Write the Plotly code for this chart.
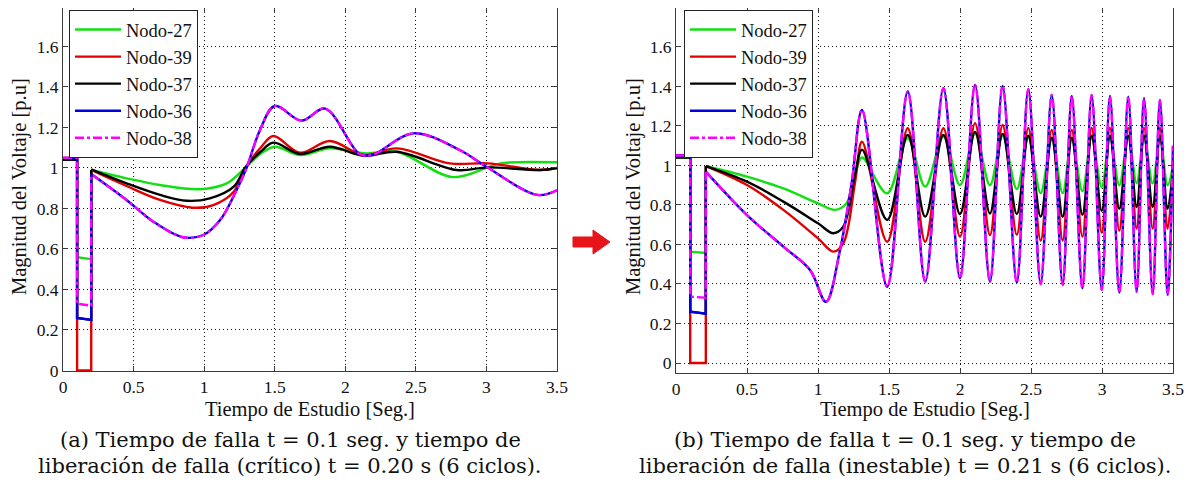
import plotly.graph_objects as go

# ---------------- data ----------------
NODES = ["Nodo-27", "Nodo-39", "Nodo-37", "Nodo-36", "Nodo-38"]
COLORS = ["#10e010", "#e00000", "#000000", "#0000e0", "#ff00ff"]
DASHES = ["solid", "solid", "solid", "solid", "dashdot"]

X_TICKS = [0, 0.5, 1, 1.5, 2, 2.5, 3, 3.5]
Y_TICKS = [0, 0.2, 0.4, 0.6, 0.8, 1, 1.2, 1.4, 1.6]

# Panel (a): pre-fault + fault interval (t = 0.1 .. 0.20 s)
A_FAULT_T = [0.0, 0.1, 0.1, 0.2, 0.2]
A_FAULT_27 = [1.04, 1.04, 0.56, 0.55, 0.99]
A_FAULT_39 = [1.05, 1.05, 0.0, 0.0, 0.99]
A_FAULT_37 = [1.04, 1.04, 0.26, 0.25, 0.99]
A_FAULT_36 = [1.05, 1.05, 0.26, 0.25, 0.97]
A_FAULT_38 = [1.05, 1.05, 0.33, 0.32, 0.97]

# Panel (a): post-fault
A_T_27 = [0.2, 0.45, 0.687, 0.97, 1.16, 1.29, 1.40, 1.50, 1.68, 1.89, 2.15, 2.365, 2.76, 3.01, 3.1, 3.5]
A_V_27 = [0.99, 0.949, 0.916, 0.895, 0.924, 1.0, 1.07, 1.105, 1.064, 1.097, 1.072, 1.08, 0.955, 1.003, 1.023, 1.028]
A_T_39 = [0.2, 0.45, 0.687, 0.92, 1.065, 1.21, 1.29, 1.40, 1.49, 1.68, 1.89, 2.13, 2.365, 2.74, 3.01, 3.38, 3.5]
A_V_39 = [0.99, 0.911, 0.842, 0.804, 0.817, 0.883, 1.0, 1.10, 1.158, 1.075, 1.133, 1.064, 1.097, 1.023, 1.023, 0.99, 1.0]
A_T_37 = [0.2, 0.45, 0.687, 0.877, 1.04, 1.21, 1.29, 1.40, 1.49, 1.68, 1.89, 2.13, 2.365, 2.79, 3.01, 3.38, 3.5]
A_V_37 = [0.993, 0.924, 0.867, 0.838, 0.85, 0.908, 1.0, 1.08, 1.125, 1.069, 1.105, 1.06, 1.08, 0.99, 1.003, 0.99, 1.0]
A_T_36 = [0.2, 0.45, 0.64, 0.85, 0.994, 1.113, 1.23, 1.30, 1.396, 1.50, 1.69, 1.857, 2.10, 2.19, 2.48, 2.81, 3.0, 3.36, 3.5]
A_V_36 = [0.97, 0.842, 0.735, 0.658, 0.669, 0.743, 0.891, 1.0, 1.188, 1.306, 1.234, 1.293, 1.07, 1.064, 1.171, 1.089, 1.006, 0.867, 0.89]
A_T_38 = A_T_36
A_V_38 = A_V_36

# Panel (b): pre-fault + fault interval (t = 0.1 .. 0.21 s)
B_FAULT_T = [0.0, 0.1, 0.1, 0.21, 0.21]
B_FAULT_27 = [1.04, 1.04, 0.564, 0.557, 0.997]
B_FAULT_39 = [1.05, 1.05, 0.0, 0.0, 0.997]
B_FAULT_37 = [1.04, 1.04, 0.26, 0.25, 0.997]
B_FAULT_36 = [1.05, 1.05, 0.26, 0.25, 0.969]
B_FAULT_38 = [1.05, 1.05, 0.336, 0.33, 0.969]

# Panel (b): post-fault, first swing
B_T0_27 = [0.21, 0.5, 0.756, 1.0, 1.12, 1.20, 1.27]
B_V0_27 = [0.997, 0.943, 0.884, 0.808, 0.775, 0.808, 0.977]
B_T0_39 = [0.21, 0.5, 0.756, 1.0, 1.108, 1.178, 1.26]
B_V0_39 = [0.997, 0.901, 0.775, 0.631, 0.564, 0.606, 0.91]
B_T0_37 = [0.21, 0.5, 0.756, 1.0, 1.108, 1.178, 1.26]
B_V0_37 = [0.997, 0.918, 0.817, 0.707, 0.657, 0.69, 0.95]
B_T0_36 = [0.21, 0.5, 0.756, 0.944, 1.056, 1.155, 1.237]
B_V0_36 = [0.969, 0.749, 0.589, 0.471, 0.31, 0.572, 0.91]

# Panel (b): growing oscillation (peaks / troughs)
B_T_OSC = [1.31, 1.487, 1.632, 1.755, 1.883, 2.0, 2.106, 2.211, 2.30, 2.40, 2.481, 2.568, 2.646,
           2.723, 2.787, 2.862, 2.927, 2.998, 3.056, 3.122, 3.185, 3.244, 3.296, 3.357, 3.408,
           3.462, 3.5]
B_V_27 = [1.04, 0.859, 1.138, 0.893, 1.146, 0.901, 1.16, 0.90, 1.15, 0.88, 1.14, 0.86, 1.13,
          0.86, 1.13, 0.87, 1.14, 0.89, 1.14, 0.90, 1.14, 0.91, 1.14, 0.91, 1.14, 0.90, 1.0]
B_V_39 = [1.12, 0.614, 1.188, 0.614, 1.188, 0.64, 1.214, 0.648, 1.205, 0.65, 1.19, 0.62, 1.18,
          0.62, 1.18, 0.64, 1.19, 0.66, 1.19, 0.67, 1.19, 0.68, 1.19, 0.68, 1.19, 0.68, 0.98]
B_V_37 = [1.08, 0.724, 1.154, 0.741, 1.154, 0.754, 1.17, 0.757, 1.16, 0.754, 1.15, 0.741, 1.14,
          0.74, 1.14, 0.75, 1.15, 0.77, 1.15, 0.78, 1.15, 0.79, 1.15, 0.79, 1.15, 0.78, 0.98]
B_V_36 = [1.281, 0.386, 1.374, 0.412, 1.391, 0.429, 1.408, 0.412, 1.403, 0.407, 1.386, 0.40, 1.357,
          0.395, 1.352, 0.378, 1.357, 0.37, 1.352, 0.356, 1.348, 0.361, 1.34, 0.349, 1.332, 0.345, 1.1]
B_V_38 = B_V_36

CAPTION_A = ["(a) Tiempo de falla t = 0.1 seg. y tiempo de",
             "liberación de falla (crítico) t = 0.20 s (6 ciclos)."]
CAPTION_B = ["(b) Tiempo de falla t = 0.1 seg. y tiempo de",
             "liberación de falla (inestable) t = 0.21 s (6 ciclos)."]
X_TITLE = "Tiempo de Estudio [Seg.]"
Y_TITLE = "Magnitud del Voltaje [p.u]"

# ---------------- figure ----------------
OFF = 8                       # page body margin
W, H = 1192 - 2 * OFF, 492 - 2 * OFF
SERIF = "Liberation Serif, Times New Roman, serif"
CAP_FONT = "DejaVu Serif, serif"

fig = go.Figure()

a_fault = [A_FAULT_27, A_FAULT_39, A_FAULT_37, A_FAULT_36, A_FAULT_38]
a_post = [(A_T_27, A_V_27), (A_T_39, A_V_39), (A_T_37, A_V_37), (A_T_36, A_V_36), (A_T_38, A_V_38)]
b_fault = [B_FAULT_27, B_FAULT_39, B_FAULT_37, B_FAULT_36, B_FAULT_38]
b_early = [(B_T0_27, B_V0_27), (B_T0_39, B_V0_39), (B_T0_37, B_V0_37), (B_T0_36, B_V0_36), (B_T0_36, B_V0_36)]
b_osc = [B_V_27, B_V_39, B_V_37, B_V_36, B_V_38]


def line_style(i):
    return dict(color=COLORS[i], width=2.4, dash=DASHES[i])


for panel, (xa, ya, leg) in enumerate([("x", "y", "legend"), ("x2", "y2", "legend2")]):
    for i, name in enumerate(NODES):
        if panel == 0:
            pt, pv = a_post[i]
        else:
            pt = b_early[i][0] + B_T_OSC
            pv = b_early[i][1] + b_osc[i]
        fig.add_trace(go.Scatter(x=pt, y=pv, mode="lines", name=name, xaxis=xa, yaxis=ya,
                                 legend=leg, legendgroup=f"{panel}{i}",
                                 line=dict(shape="spline", smoothing=1.0, **line_style(i))))
    for i, name in enumerate(NODES):
        ft = A_FAULT_T if panel == 0 else B_FAULT_T
        fv = a_fault[i] if panel == 0 else b_fault[i]
        fig.add_trace(go.Scatter(x=ft, y=fv, mode="lines", name=name, xaxis=xa, yaxis=ya,
                                 legend=leg, legendgroup=f"{panel}{i}", showlegend=False,
                                 line=line_style(i)))


def px2x(px):
    return (px - OFF) / W


def py2y(py):
    return min(1.0, max(0.0, 1 - (py - OFF) / H))


axis_common = dict(showline=True, linecolor="#3a3a3a", linewidth=1, mirror="ticks",
                   ticks="inside", ticklen=5, tickcolor="#3a3a3a",
                   showgrid=True, gridcolor="#111111", gridwidth=1, griddash="1px,3px",
                   zeroline=False, tickfont=dict(family=SERIF, size=17.5, color="#111"),
                   ticklabeloverflow="allow", automargin=False)

legend_common = dict(xanchor="left", yanchor="top", bgcolor="white",
                     bordercolor="#222", borderwidth=1,
                     font=dict(family=SERIF, size=18.5, color="#111"),
                     itemwidth=46, tracegroupgap=0)

# panel frames (pixel rows of the reference); top clipped to the page edge
fig.update_layout(
    width=W, height=H, margin=dict(l=0, r=0, t=0, b=0),
    paper_bgcolor="white", plot_bgcolor="white",
    xaxis=dict(domain=[px2x(63), px2x(557)], range=[0, 3.5], tickvals=X_TICKS, anchor="y", **axis_common),
    yaxis=dict(domain=[py2y(371), py2y(8)], range=[-0.0025, 1.79], tickvals=Y_TICKS, anchor="x", **axis_common),
    xaxis2=dict(domain=[px2x(676), px2x(1173)], range=[0, 3.5], tickvals=X_TICKS, anchor="y2", **axis_common),
    yaxis2=dict(domain=[py2y(373), py2y(8)], range=[-0.0506, 1.797], tickvals=Y_TICKS, anchor="x2", **axis_common),
    legend=dict(x=px2x(69), y=py2y(10), **legend_common),
    legend2=dict(x=px2x(684), y=py2y(10), **legend_common),
)

ann = []
for cx in [(63 + 557) / 2, (676 + 1173) / 2]:
    ann.append(dict(x=px2x(cx), y=py2y(409), xref="paper", yref="paper", text=X_TITLE,
                    showarrow=False, font=dict(family=SERIF, size=20.5, color="#111"),
                    xanchor="center", yanchor="middle"))
for cx in [19, 633]:
    ann.append(dict(x=px2x(cx), y=py2y(187), xref="paper", yref="paper", text=Y_TITLE,
                    showarrow=False, textangle=-90, font=dict(family=SERIF, size=20.5, color="#111"),
                    xanchor="center", yanchor="middle"))
for cx, cap in [(290, CAPTION_A), (905, CAPTION_B)]:
    for k, line in enumerate(cap):
        ann.append(dict(x=px2x(cx), y=py2y(440 + 26 * k), xref="paper", yref="paper", text=line,
                        showarrow=False, font=dict(family=CAP_FONT, size=21, color="#111"),
                        xanchor="center", yanchor="middle"))
fig.update_layout(annotations=ann)

# red arrow between the panels
pts = [(573, 237), (593, 237), (593, 230), (610, 242), (593, 254), (593, 247), (573, 247)]
path = "M " + " L ".join(f"{px2x(x):.5f},{py2y(y):.5f}" for x, y in pts) + " Z"
fig.add_shape(type="path", path=path, xref="paper", yref="paper",
              fillcolor="#e8141a", line=dict(color="#e8141a", width=1))

fig.write_html("out.html")
